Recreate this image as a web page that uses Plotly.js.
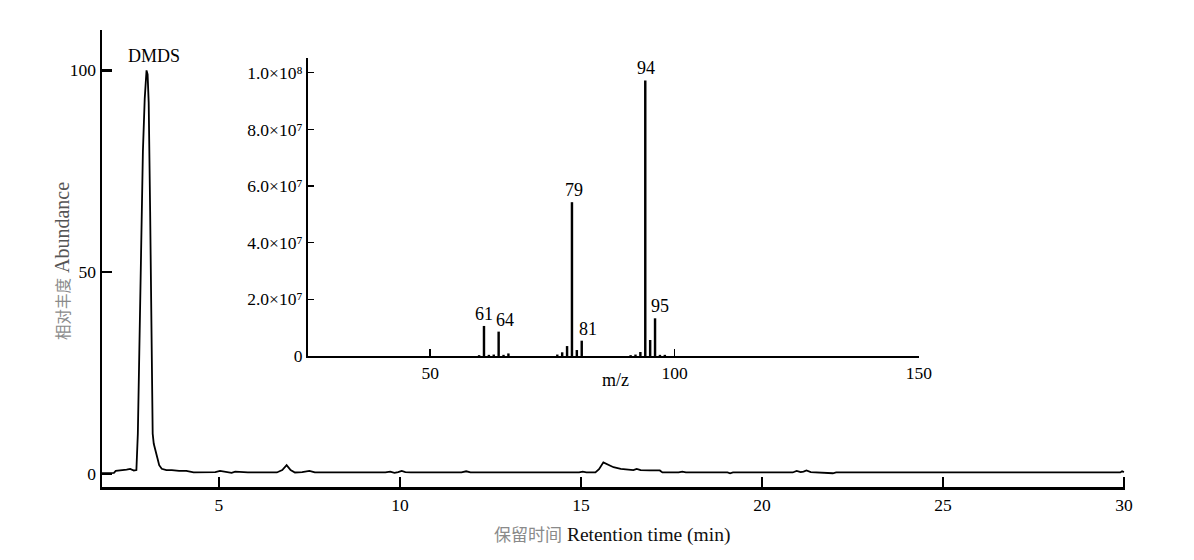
<!DOCTYPE html>
<html>
<head>
<meta charset="utf-8">
<script src="https://cdn.plot.ly/plotly-3.0.1.min.js"></script>
<style>html,body{margin:0;padding:0;background:#fff;}#chart{width:1194px;height:560px;}</style>
</head>
<body>
<div id="chart"></div>
<script>
// Chromatogram (retention time in min, relative abundance)
const retentionTime = [1.77,1.95,2.1,2.15,2.3,2.45,2.55,2.65,2.72,2.76,2.8,2.85,2.9,2.95,3.0,3.03,3.06,3.1,3.14,3.17,3.2,3.25,3.3,3.35,3.42,3.55,3.7,3.9,4.1,4.3,4.6,4.9,5.03,5.2,5.35,5.45,5.6,5.8,6.2,6.6,6.75,6.87,6.98,7.1,7.3,7.5,7.65,7.9,8.5,9.0,9.6,9.73,9.85,9.95,10.05,10.15,10.3,11.0,11.7,11.83,11.95,12.5,13.5,14.5,14.95,15.05,15.15,15.4,15.5,15.62,15.75,15.9,16.1,16.3,16.45,16.54,16.65,16.9,17.18,17.25,17.7,17.8,17.9,18.5,19.05,19.12,19.2,20.0,20.85,20.96,21.07,21.15,21.23,21.35,21.6,21.9,21.96,22.05,22.5,22.57,22.65,23.5,25.0,27.0,29.0,29.9,29.95,30.0];
const abundance = [0.2,0.2,0.3,0.8,0.9,1.1,1.3,0.9,1.0,10,30,55,80,93,100,99,92,65,30,10,7.5,6,4,2.2,1.3,1.0,1.0,0.8,0.8,0.4,0.4,0.5,0.8,0.5,0.3,0.6,0.5,0.4,0.4,0.4,1.0,2.2,1.0,0.4,0.5,0.8,0.4,0.4,0.4,0.4,0.4,0.6,0.3,0.5,0.8,0.5,0.4,0.4,0.4,0.7,0.4,0.4,0.4,0.4,0.4,0.6,0.4,0.4,1.2,2.9,2.4,1.7,1.3,1.1,1.0,1.3,1.0,0.9,0.9,0.4,0.4,0.6,0.4,0.4,0.4,0.2,0.4,0.4,0.4,0.8,0.5,0.6,0.9,0.5,0.4,0.4,0.2,0.4,0.4,0.25,0.4,0.4,0.4,0.4,0.4,0.4,0.7,0.5];
const mainPeakLabel = "DMDS";
const mainPeakTime = 3.2;
const mainYTicks = [0, 50, 100];
const mainXTicks = [5, 10, 15, 20, 25, 30];
const xTitleZh = "保留时间", xTitleEn = "Retention time (min)";
const yTitleZh = "相对丰度", yTitleEn = "Abundance";

// Mass spectrum (inset)
const mz = [60,61,62,63,64,65,66,76,77,78,79,80,81,91,92,93,94,95,96,97,98];
const intensity = [3e5,1.06e7,4e5,5e5,8.6e6,4e5,9e5,5e5,1.3e6,3.5e6,5.43e7,2.1e6,5.4e6,3e5,5e5,1.4e6,9.73e7,5.65e6,1.33e7,4e5,4e5];
const labelText = ["61","64","79","81","94","95"];
const labelMz = [61,64,79,81,94,96];
const labelShift = [0,6,2,6,1,5];
const insetYTicks = [0, 2e7, 4e7, 6e7, 8e7, 1e8];
const insetYTickText = ["0","2.0×10⁷","4.0×10⁷","6.0×10⁷","8.0×10⁷","1.0×10⁸"];
const insetXTicks = [50, 100, 150];
const insetXTitle = "m/z";

const FONT = "Liberation Serif, Times New Roman, Noto Sans CJK SC, serif";
const CJK = "Noto Sans CJK SC, Liberation Serif, serif";

const traces = [
  {x: retentionTime, y: abundance, type: 'scatter', mode: 'lines',
   line: {color: '#000', width: 1.8, shape: 'linear'}, xaxis: 'x', yaxis: 'y', hoverinfo: 'skip'},
  {x: mz, y: intensity, type: 'bar', width: 0.5, marker: {color: '#000', line: {width: 0}},
   xaxis: 'x2', yaxis: 'y2', hoverinfo: 'skip'}
];

const annotations = [
  {x: mainPeakTime, y: 103.5, xref: 'x', yref: 'y', text: mainPeakLabel, showarrow: false,
   font: {family: FONT, size: 18, color: '#000'}},
  {x: 0.5015, y: 0.234, xref: 'paper', yref: 'paper', text: insetXTitle, showarrow: false,
   xanchor: 'center', yanchor: 'middle', font: {family: FONT, size: 18, color: '#000'}},
  {x: 0.4985, y: -0.1007, xref: 'paper', yref: 'paper', showarrow: false,
   xanchor: 'center', yanchor: 'middle',
   text: '<span style="font-family:' + CJK + ';font-size:17px;color:#8a8a8a">' + xTitleZh + '</span> ' + xTitleEn,
   font: {family: FONT, size: 19.5, color: '#111'}},
  {x: -0.0391, y: 0.4945, xref: 'paper', yref: 'paper', showarrow: false, textangle: -90,
   xanchor: 'center', yanchor: 'middle',
   text: '<span style="font-family:' + CJK + ';font-size:15.5px;color:#8a8a8a">' + yTitleZh + '</span> ' + yTitleEn,
   font: {family: FONT, size: 20, color: '#555'}}
];
labelMz.forEach((m, i) => {
  annotations.push({x: m, y: intensity[mz.indexOf(m)], xref: 'x2', yref: 'y2', text: labelText[i],
    showarrow: false, yanchor: 'bottom', xshift: labelShift[i], yshift: 0,
    font: {family: FONT, size: 18, color: '#000'}});
});

const layout = {
  width: 1194, height: 560,
  margin: {l: 102, r: 69, t: 30, b: 73},
  paper_bgcolor: '#fff', plot_bgcolor: 'rgba(0,0,0,0)',
  showlegend: false,
  font: {family: FONT, color: '#000'},
  xaxis: {
    range: [1.77, 30.03], domain: [0, 1], anchor: 'y',
    showgrid: false, zeroline: false, showline: true, linecolor: '#000', linewidth: 2.5,
    ticks: 'inside', ticklen: 10, tickwidth: 2.5, tickcolor: '#000',
    tickvals: mainXTicks, ticktext: mainXTicks.map(String),
    tickfont: {family: FONT, size: 17.5, color: '#000'}
  },
  yaxis: {
    range: [-3.2, 110], domain: [0, 1], anchor: 'x',
    showgrid: false, zeroline: false, showline: true, linecolor: '#000', linewidth: 2.5,
    ticks: 'inside', ticklen: 10, tickwidth: 2.5, tickcolor: '#000',
    tickvals: mainYTicks, ticktext: mainYTicks.map(String),
    tickfont: {family: FONT, size: 17.5, color: '#000'}
  },
  xaxis2: {
    range: [25, 150], domain: [0.2014, 0.7986], anchor: 'y2',
    showgrid: false, zeroline: false, showline: true, linecolor: '#000', linewidth: 2,
    ticks: 'inside', ticklen: 7, tickwidth: 1.5, tickcolor: '#000',
    tickvals: insetXTicks, ticktext: insetXTicks.map(String),
    tickfont: {family: FONT, size: 17.5, color: '#000'}
  },
  yaxis2: {
    range: [0, 1.052e8], domain: [0.2867, 0.9387], anchor: 'x2',
    showgrid: false, zeroline: false, showline: true, linecolor: '#000', linewidth: 2,
    ticks: 'inside', ticklen: 6, tickwidth: 1.5, tickcolor: '#000',
    tickvals: insetYTicks, ticktext: insetYTickText,
    tickfont: {family: FONT, size: 17.5, color: '#000'}
  },
  annotations: annotations
};

Plotly.newPlot('chart', traces, layout, {staticPlot: true, displayModeBar: false});
</script>
</body>
</html>
